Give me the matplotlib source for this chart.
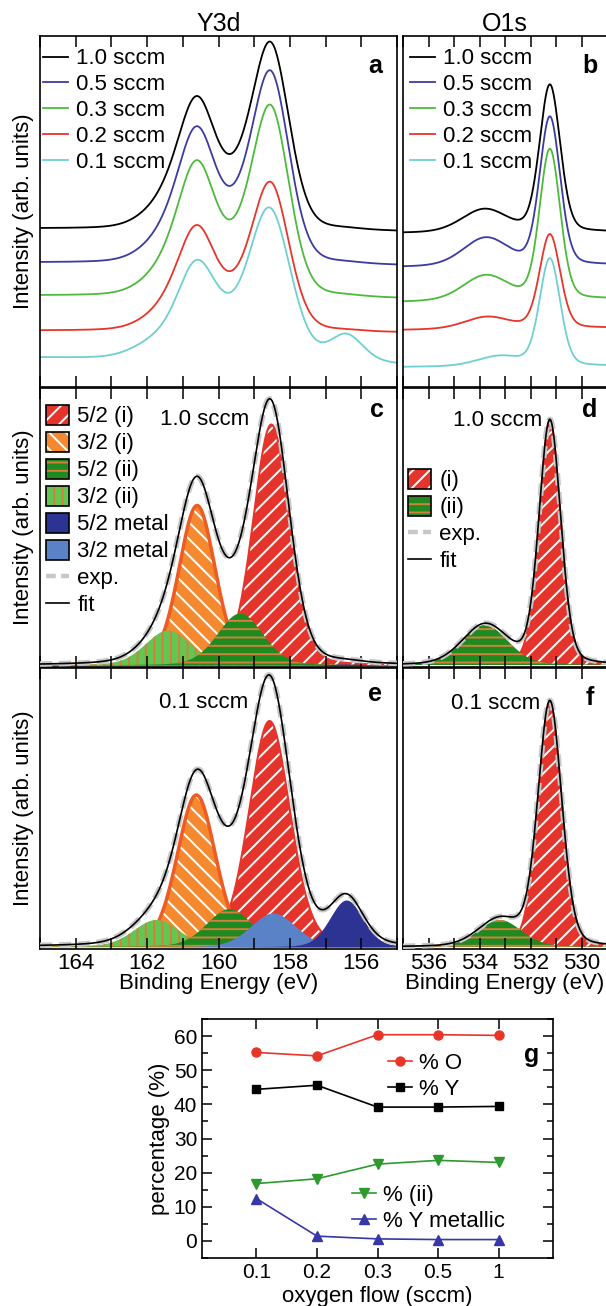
import numpy as np
import matplotlib
matplotlib.use('Agg')
import matplotlib.pyplot as plt
from matplotlib.patches import Patch
from matplotlib.lines import Line2D
from matplotlib.ticker import MultipleLocator

plt.rcParams['font.family'] = ['Liberation Sans', 'DejaVu Sans']
plt.rcParams['font.size'] = 16
plt.rcParams['hatch.linewidth'] = 1.4
plt.rcParams['axes.linewidth'] = 1.2

# ---------------- data ----------------
# panel a/b: spectra per oxygen flow
flows = ['1.0 sccm', '0.5 sccm', '0.3 sccm', '0.2 sccm', '0.1 sccm']
flow_colors = ['black', '#3b3ba3', '#4cbb3c', '#e8352a', '#6fd0d0']

# Y3d traces: baseline left/right and scale of the fitted peak set
y3d_base_left = [158, 124, 91, 56, 29]
y3d_base_right = [155, 121, 88, 54, 22]
y3d_scale = [0.71, 0.73, 0.725, 0.565, 0.57]
y3d_ref = ['hi', 'hi', 'hi', 'hi', 'lo']

# O1s traces: baseline left/right, (i) and (ii) peak heights, (ii) position
o1s_base_left = [154, 120, 85, 57, 20]
o1s_base_right = [155, 122, 88, 59, 21]
o1s_h_i = [147, 148, 150, 94, 107]
o1s_h_ii = [23, 28, 25, 12, 10]
o1s_pos_ii = [533.8, 533.75, 533.75, 533.7, 533.2]

# Y3d fit components (panel c = 1.0 sccm, panel e = 0.1 sccm)
y3d_names = ['5/2 (i)', '3/2 (i)', '5/2 (ii)', '3/2 (ii)', '5/2 metal', '3/2 metal']
y3d_pos_hi = [158.52, 160.60, 159.39, 161.41, 156.42, 158.47]
y3d_fwhm_hi = [1.2, 1.2, 1.5, 1.5, 1.1, 1.5]
y3d_h_hi = [241, 160, 52, 35, 1.5, 1.0]
y3d_pos_lo = [158.57, 160.62, 159.69, 161.74, 156.42, 158.47]
y3d_fwhm_lo = [1.35, 1.27, 1.5, 1.5, 1.1, 1.5]
y3d_h_lo = [226, 152, 38, 27, 47, 34]

# O1s fit components (panel d = 1.0 sccm, panel f = 0.1 sccm)
o1s_names = ['(i)', '(ii)']
o1s_pos_hi = [531.24, 533.78]
o1s_fwhm_hi = [1.0, 2.1]
o1s_h_hi = [244, 40]
o1s_pos_lo = [531.24, 533.2]
o1s_fwhm_lo = [1.1, 2.0]
o1s_h_lo = [244, 27]

# panel g: composition vs oxygen flow
g_flows = ['0.1', '0.2', '0.3', '0.5', '1']
pct_O = [55.2, 54.2, 60.4, 60.4, 60.2]
pct_Y = [44.4, 45.6, 39.2, 39.2, 39.4]
pct_ii = [16.8, 18.2, 22.5, 23.6, 23.0]
pct_Ymet = [12.4, 1.4, 0.6, 0.4, 0.4]

# ---------------- helpers ----------------
def peak(x, pos, fwhm, height, eta=0.2):
    u = (x - pos) / fwhm
    return height * ((1 - eta) * np.exp(-4 * np.log(2) * u ** 2) + eta / (1 + 4 * u ** 2))


E_y = np.linspace(165, 155, 700)
E_o = np.linspace(537, 529, 600)

y3d_sets = {'hi': (y3d_pos_hi, y3d_fwhm_hi, y3d_h_hi),
            'lo': (y3d_pos_lo, y3d_fwhm_lo, y3d_h_lo)}
o1s_sets = {'hi': (o1s_pos_hi, o1s_fwhm_hi, o1s_h_hi),
            'lo': (o1s_pos_lo, o1s_fwhm_lo, o1s_h_lo)}

# face, hatch, hatch colour, outline colour, outline width
y3d_style = [('#e4342b', '//', 'white', '#e4342b', 1.5),
             ('#f4892f', '\\\\', 'white', '#f05a23', 2.5),
             ('#1f8a1f', '--', '#d4803a', None, 0),
             ('#62c653', '||', '#d4803a', None, 0),
             ('#2d3393', None, '#2d3393', None, 0),
             ('#5a82c6', None, '#5a82c6', None, 0)]
y3d_order = [0, 1, 3, 2, 5, 4]
o1s_style = [y3d_style[0], y3d_style[2]]
exp_color = '#c8c8c8'
exp_dash = (0, (2.2, 1.2))

W, H = 606, 1306
fig = plt.figure(figsize=(W / 100, H / 100), dpi=100)


def add_axes(l, t, r, b):
    return fig.add_axes([l / W, 1 - b / H, (r - l) / W, (b - t) / H])


ax_a = add_axes(40, 36, 397, 387)
ax_b = add_axes(403, 36, 607, 387)
ax_c = add_axes(40, 388, 397, 667)
ax_d = add_axes(403, 388, 607, 667)
ax_e = add_axes(40, 668, 397, 949)
ax_f = add_axes(403, 668, 607, 949)
ax_g = add_axes(202, 1019, 553, 1258)


def spectrum_axes(ax, xlim, major, label_bottom):
    ax.set_xlim(*xlim)
    ax.set_xticks(major)
    ax.xaxis.set_minor_locator(MultipleLocator(1))
    ax.tick_params(axis='x', which='both', direction='in', top=True, bottom=True,
                   length=8, width=1.1, labelbottom=label_bottom, pad=3, labelsize=16)
    ax.set_yticks([])


# ---------------- panel a ----------------
for lab, col, bl, br, s, ref in zip(flows, flow_colors, y3d_base_left, y3d_base_right,
                                    y3d_scale, y3d_ref):
    pos, fw, hh = y3d_sets[ref]
    base = np.interp(E_y, [155, 165], [br, bl])
    tot = sum(peak(E_y, p, w, s * h) for p, w, h in zip(pos, fw, hh))
    ax_a.plot(E_y, base + tot, color=col, lw=1.3, label=lab)
ax_a.set_ylim(0, 351)
spectrum_axes(ax_a, (165, 155), [164, 162, 160, 158, 156], False)
ax_a.set_ylabel('Intensity (arb. units)')
ax_a.set_title('Y3d', fontsize=18, pad=3)
ax_a.legend(loc='upper left', bbox_to_anchor=(0.008, 0.965), frameon=False, borderpad=0,
            borderaxespad=0, handlelength=1.15, handletextpad=0.35, labelspacing=0.22)
ax_a.text(0.938, 0.895, 'a', transform=ax_a.transAxes, ha='center', va='baseline',
          fontsize=18, fontweight='bold')

# ---------------- panel b ----------------
for lab, col, bl, br, hi, hii, pii in zip(flows, flow_colors, o1s_base_left, o1s_base_right,
                                          o1s_h_i, o1s_h_ii, o1s_pos_ii):
    base = np.interp(E_o, [529, 537], [br, bl])
    tot = peak(E_o, o1s_pos_hi[0], 0.95, hi) + peak(E_o, pii, 2.1, hii)
    ax_b.plot(E_o, base + tot, color=col, lw=1.3, label=lab)
ax_b.set_ylim(0, 351)
spectrum_axes(ax_b, (537, 529), [536, 534, 532, 530], False)
ax_b.set_title('O1s', fontsize=18, pad=3)
ax_b.legend(loc='upper left', bbox_to_anchor=(0.034, 0.965), frameon=False, borderpad=0,
            borderaxespad=0, handlelength=1.15, handletextpad=0.35, labelspacing=0.22)
ax_b.text(0.917, 0.895, 'b', transform=ax_b.transAxes, ha='center', va='baseline',
          fontsize=18, fontweight='bold')


# ---------------- fitted panels ----------------
def draw_fit(ax, E, base, pos, fw, hh, styles, order):
    comps = [peak(E, p, w, h) for p, w, h in zip(pos, fw, hh)]
    for k in order:
        face, hatch, hcol, ecol, elw = styles[k]
        ax.fill_between(E, base, base + comps[k], facecolor=face, edgecolor=hcol,
                        hatch=hatch, linewidth=0, zorder=1)
        if ecol:
            edge = np.where(comps[k] > 0.04 * hh[k], base + comps[k], np.nan)
            ax.plot(E, edge, color=ecol, lw=elw, zorder=1)
    tot = base + sum(comps)
    ax.plot(E, tot, color=exp_color, lw=4, ls=exp_dash, zorder=3)
    ax.plot(E, tot, color='black', lw=1.2, zorder=4)


def comp_handles(names, styles):
    hs = []
    for face, hatch, hcol, ecol, elw in styles:
        hs.append((Patch(facecolor=face, edgecolor=hcol, hatch=hatch, linewidth=0),
                   Patch(facecolor='none', edgecolor='black', linewidth=1.2)))
    hs.append(Line2D([], [], color=exp_color, lw=3.2, ls=exp_dash))
    hs.append(Line2D([], [], color='black', lw=1.2))
    return hs, list(names) + ['exp.', 'fit']


for ax, ref, base, top, flow, letter, lx, ly, tx, ty in [
        (ax_c, 'hi', 1.5, 279, '1.0 sccm', 'c', 0.944, 0.897, 0.462, 0.867),
        (ax_e, 'lo', 2.0, 281, '0.1 sccm', 'e', 0.938, 0.884, 0.459, 0.857)]:
    pos, fw, hh = y3d_sets[ref]
    draw_fit(ax, E_y, base, pos, fw, hh, y3d_style, y3d_order)
    ax.set_ylim(0, top)
    spectrum_axes(ax, (165, 155), [164, 162, 160, 158, 156], ax is ax_e)
    ax.set_ylabel('Intensity (arb. units)')
    ax.text(lx, ly, letter, transform=ax.transAxes, ha='center', va='baseline',
            fontsize=18, fontweight='bold')
    ax.text(tx, ty, flow, transform=ax.transAxes, ha='center', va='baseline')

for ax, ref, base, top, flow, letter, ly, tx, ty in [
        (ax_d, 'hi', 2.0, 279, '1.0 sccm', 'd', 0.897, 0.463, 0.864),
        (ax_f, 'lo', 2.0, 281, '0.1 sccm', 'f', 0.868, 0.453, 0.853)]:
    pos, fw, hh = o1s_sets[ref]
    draw_fit(ax, E_o, base, pos, fw, hh, o1s_style, [0, 1])
    ax.set_ylim(0, top)
    spectrum_axes(ax, (537, 529), [536, 534, 532, 530], ax is ax_f)
    ax.text(0.917, ly, letter, transform=ax.transAxes, ha='center', va='baseline',
            fontsize=18, fontweight='bold')
    ax.text(tx, ty, flow, transform=ax.transAxes, ha='center', va='baseline')

hs, ls = comp_handles(y3d_names, y3d_style)
ax_c.legend(hs, ls, loc='upper left', bbox_to_anchor=(0.017, 0.94), frameon=False,
            borderpad=0, borderaxespad=0, handlelength=1.05, handleheight=1.0,
            handletextpad=0.35, labelspacing=0.2)
hs, ls = comp_handles(o1s_names, o1s_style)
ax_d.legend(hs, ls, loc='upper left', bbox_to_anchor=(0.025, 0.71), frameon=False,
            borderpad=0, borderaxespad=0, handlelength=1.05, handleheight=1.0,
            handletextpad=0.35, labelspacing=0.2)

for ax in (ax_e, ax_f):
    ax.set_xlabel('Binding Energy (eV)', labelpad=-1)

# ---------------- panel g ----------------
xg = np.arange(len(g_flows))
lO, = ax_g.plot(xg, pct_O, color='#e8352a', marker='o', ms=6.5, lw=1.2, label='% O')
lY, = ax_g.plot(xg, pct_Y, color='black', marker='s', ms=6, lw=1.2, label='% Y')
lii, = ax_g.plot(xg, pct_ii, color='#2e9a2e', marker='v', ms=7, lw=1.2, label='% (ii)')
lm, = ax_g.plot(xg, pct_Ymet, color='#3737a8', marker='^', ms=7, lw=1.2, label='% Y metallic')
ax_g.set_xlim(-0.9, 4.9)
ax_g.set_ylim(-5, 65)
ax_g.set_xticks(xg)
ax_g.set_xticklabels(g_flows)
ax_g.set_yticks(np.arange(0, 61, 10))
ax_g.yaxis.set_minor_locator(MultipleLocator(5))
ax_g.tick_params(which='both', direction='in', top=True, right=True, labelsize=15, width=1.1)
ax_g.tick_params(which='major', length=7)
ax_g.tick_params(which='minor', length=4.5)
ax_g.set_xlabel('oxygen flow (sccm)', labelpad=3)
ax_g.set_ylabel('percentage (%)', labelpad=3)
leg1 = ax_g.legend([lO, lY], ['% O', '% Y'], loc='center left', bbox_to_anchor=(0.53, 0.76),
                   frameon=False, borderpad=0, borderaxespad=0, handlelength=1.1,
                   handletextpad=0.3, labelspacing=0.22)
ax_g.add_artist(leg1)
ax_g.legend([lii, lm], ['% (ii)', '% Y metallic'], loc='center left',
            bbox_to_anchor=(0.427, 0.207), frameon=False, borderpad=0, borderaxespad=0,
            handlelength=1.1, handletextpad=0.3, labelspacing=0.22)
ax_g.text(0.939, 0.821, 'g', transform=ax_g.transAxes, ha='center', va='baseline',
          fontsize=18, fontweight='bold')

fig.savefig('out.png', dpi=100)
